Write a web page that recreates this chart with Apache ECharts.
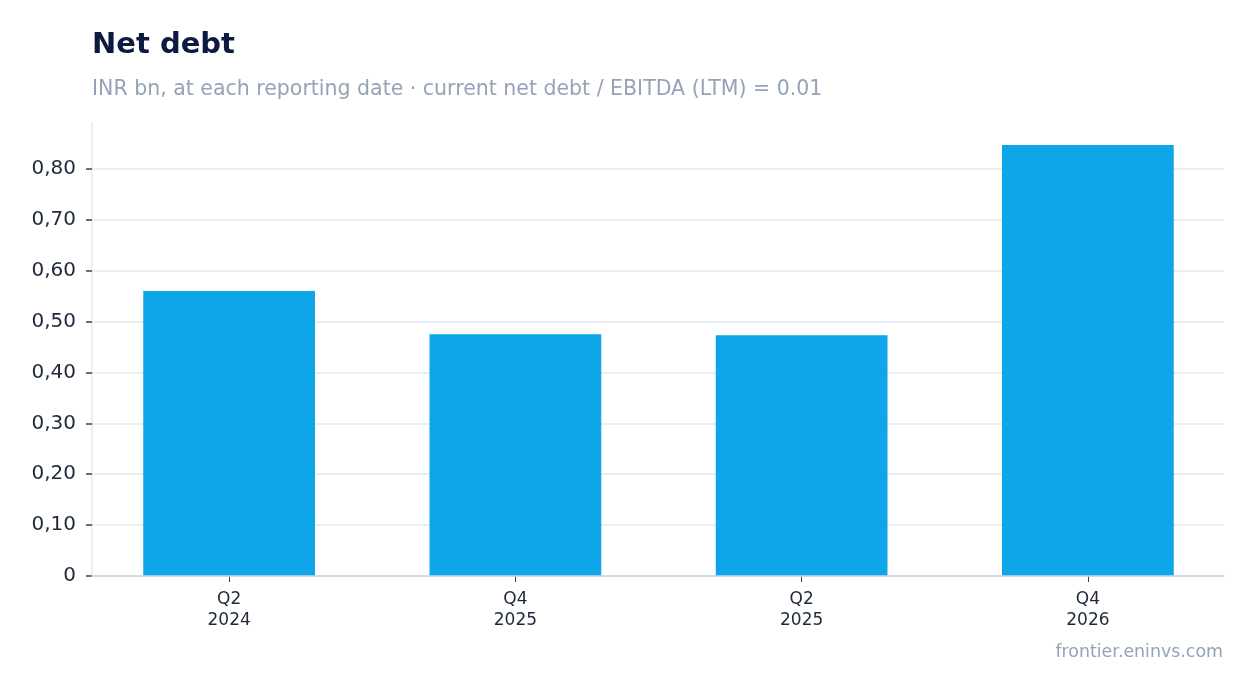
<!DOCTYPE html>
<html>
<head>
<meta charset="utf-8">
<script src="https://cdn.jsdelivr.net/npm/echarts@6/dist/echarts.min.js"></script>
<style>
html,body{margin:0;padding:0;background:#fff;}
#c{width:1254px;height:693px;}
</style>
</head>
<body>
<div id="c"></div>
<script>
const categories = ['Q2\n2024', 'Q4\n2025', 'Q2\n2025', 'Q4\n2026'];
const netDebt = [0.560, 0.475, 0.473, 0.847];
const titleText = 'Net debt';
const subtitleText = 'INR bn, at each reporting date · current net debt / EBITDA (LTM) = 0.01';
const footerText = 'frontier.eninvs.com';
const yMin = 0, yMax = 0.89, yStep = 0.1;

const chart = echarts.init(document.getElementById('c'));
chart.setOption({
  backgroundColor: '#ffffff',
  animation: false,
  title: [
    {
      text: titleText,
      left: 87, top: 26,
      textStyle: { fontFamily: 'DejaVu Sans', fontSize: 29, fontWeight: 'bold', color: '#0c1a40' }
    },
    {
      text: subtitleText,
      left: 87, top: 74,
      textStyle: { fontFamily: 'DejaVu Sans', fontSize: 20.5, fontWeight: 'normal', color: '#94a3b8' }
    },
    {
      text: footerText,
      right: 26, top: 639,
      textStyle: { fontFamily: 'DejaVu Sans', fontSize: 17.4, fontWeight: 'normal', color: '#94a3b8' }
    }
  ],
  grid: [
    { left: 86, right: 23, top: 123, bottom: 117, containLabel: false },
    { left: 92, right: 30, top: 123, bottom: 117, containLabel: false }
  ],
  xAxis: [
    {
      type: 'category', gridIndex: 0,
      data: categories,
      axisLine: { show: false },
      axisTick: { show: true, alignWithLabel: true, length: 6, lineStyle: { color: '#334155' } },
      axisLabel: { fontFamily: 'DejaVu Sans', fontSize: 17, color: '#1e293b', lineHeight: 21, margin: 13 }
    },
    {
      type: 'category', gridIndex: 1,
      data: categories,
      axisLine: { show: true, lineStyle: { color: '#cbd5e1', width: 1.5 } },
      axisTick: { show: false },
      axisLabel: { show: false },
      splitLine: { show: false },
      z: 5
    }
  ],
  yAxis: [
    {
      type: 'value', gridIndex: 0,
      min: yMin, max: yMax, interval: yStep,
      show: false,
      splitLine: { show: false }
    },
    {
      type: 'value', gridIndex: 1,
      min: yMin, max: yMax, interval: yStep,
      axisLine: { show: true, lineStyle: { color: '#e2e8f0', width: 1.5 } },
      axisTick: { show: true, length: 6, lineStyle: { color: '#334155', width: 1.5 } },
      splitLine: { show: true, showMaxLine: false, lineStyle: { color: '#e2e8f0', width: 1.5 } },
      axisLabel: {
        fontFamily: 'DejaVu Sans', fontSize: 20, color: '#1e293b', margin: 16,
        padding: [4, 0, 0, 0],
        showMaxLabel: false,
        formatter: function (v) { return v === 0 ? '0' : v.toFixed(2).replace('.', ','); }
      }
    }
  ],
  series: [{
    type: 'bar',
    xAxisIndex: 0, yAxisIndex: 0,
    data: netDebt,
    barWidth: '60%',
    itemStyle: { color: '#0ea5e9' }
  }]
});
</script>
</body>
</html>
